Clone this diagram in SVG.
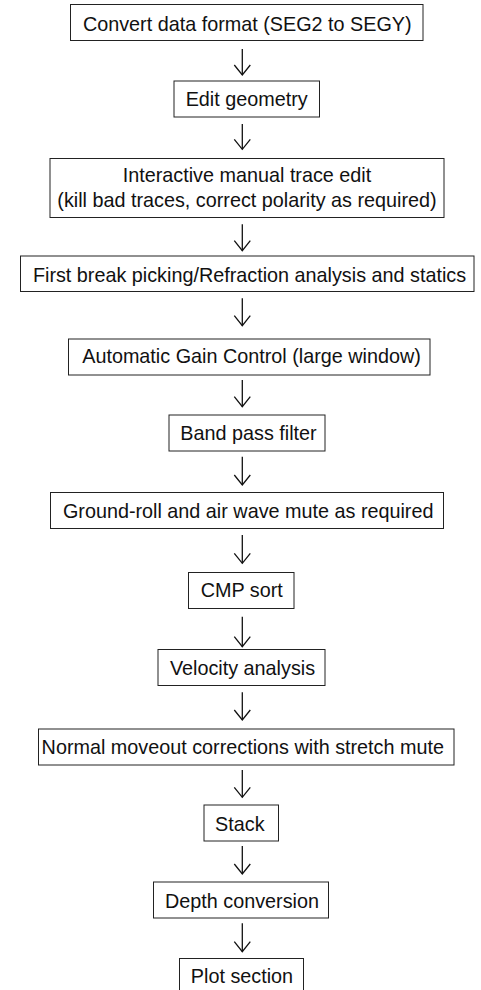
<svg xmlns="http://www.w3.org/2000/svg" width="481" height="990" viewBox="0 0 481 990">
<style>
rect.b{fill:#fff;stroke:#222;stroke-width:1}
text{font-family:"Liberation Sans",Arial,sans-serif;font-size:19.8px;fill:#111;text-anchor:middle}
.c line{stroke:#111;stroke-width:1.3;fill:none}
</style>
<defs>
<marker id="ah" markerUnits="userSpaceOnUse" viewBox="-12 -10 14 20" refX="0" refY="0" markerWidth="14" markerHeight="20" orient="auto" overflow="visible">
<path d="M-10,-8 L0,0 L-10,8" fill="none" stroke="#111" stroke-width="1.3"/>
</marker>
</defs>
<rect width="481" height="990" fill="#fff"/>
<g id="connectors" class="c">
<line x1="242.3" y1="49" x2="242.3" y2="75" marker-end="url(#ah)"/>
<line x1="242.3" y1="124" x2="242.3" y2="149.3" marker-end="url(#ah)"/>
<line x1="242.3" y1="224.3" x2="242.3" y2="250.7" marker-end="url(#ah)"/>
<line x1="242.3" y1="298.3" x2="242.3" y2="325.7" marker-end="url(#ah)"/>
<line x1="242.3" y1="380" x2="242.3" y2="406.7" marker-end="url(#ah)"/>
<line x1="242.3" y1="456.7" x2="242.3" y2="485" marker-end="url(#ah)"/>
<line x1="242.3" y1="535" x2="242.3" y2="563.3" marker-end="url(#ah)"/>
<line x1="242.3" y1="616.7" x2="242.3" y2="646.7" marker-end="url(#ah)"/>
<line x1="242.3" y1="692.3" x2="242.3" y2="720" marker-end="url(#ah)"/>
<line x1="242.3" y1="770" x2="242.3" y2="797.3" marker-end="url(#ah)"/>
<line x1="242.3" y1="846" x2="242.3" y2="874" marker-end="url(#ah)"/>
<line x1="242.3" y1="923.3" x2="242.3" y2="951.7" marker-end="url(#ah)"/>
</g>
<g id="n1"><rect class="b" x="70.5" y="4.5" width="352.5" height="36"/><text x="247.3" y="30.5">Convert data format (SEG2 to SEGY)</text></g>
<g id="n2"><rect class="b" x="174" y="81" width="145.5" height="36"/><text x="246.7" y="105.5">Edit geometry</text></g>
<g id="n3"><rect class="b" x="50" y="158.5" width="394" height="59"/><text x="247" y="181.5">Interactive manual trace edit</text><text x="247" y="207">(kill bad traces, correct polarity as required)</text></g>
<g id="n4"><rect class="b" x="20.5" y="256" width="453.5" height="35.5"/><text x="249.5" y="281.5">First break picking/Refraction analysis and statics</text></g>
<g id="n5"><rect class="b" x="68.5" y="339" width="361.5" height="36"/><text x="251.5" y="363">Automatic Gain Control (large window)</text></g>
<g id="n6"><rect class="b" x="169" y="415" width="156" height="36"/><text x="248.5" y="440">Band pass filter</text></g>
<g id="n7"><rect class="b" x="50.5" y="492.5" width="393" height="36"/><text x="248.2" y="517.5">Ground-roll and air wave mute as required</text></g>
<g id="n8"><rect class="b" x="188.5" y="572.5" width="105.5" height="36"/><text x="241.7" y="597">CMP sort</text></g>
<g id="n9"><rect class="b" x="158" y="649.5" width="167" height="36"/><text x="242.5" y="675">Velocity analysis</text></g>
<g id="n10"><rect class="b" x="38.5" y="729" width="415.5" height="36"/><text x="242.8" y="754">Normal moveout corrections with stretch mute</text></g>
<g id="n11"><rect class="b" x="204" y="805" width="74.5" height="36"/><text x="239.8" y="830.5">Stack</text></g>
<g id="n12"><rect class="b" x="153.5" y="882" width="175" height="36"/><text x="242" y="908">Depth conversion</text></g>
<g id="n13"><rect class="b" x="179.5" y="958.5" width="124" height="36"/><text x="242" y="982.5">Plot section</text></g>
</svg>
